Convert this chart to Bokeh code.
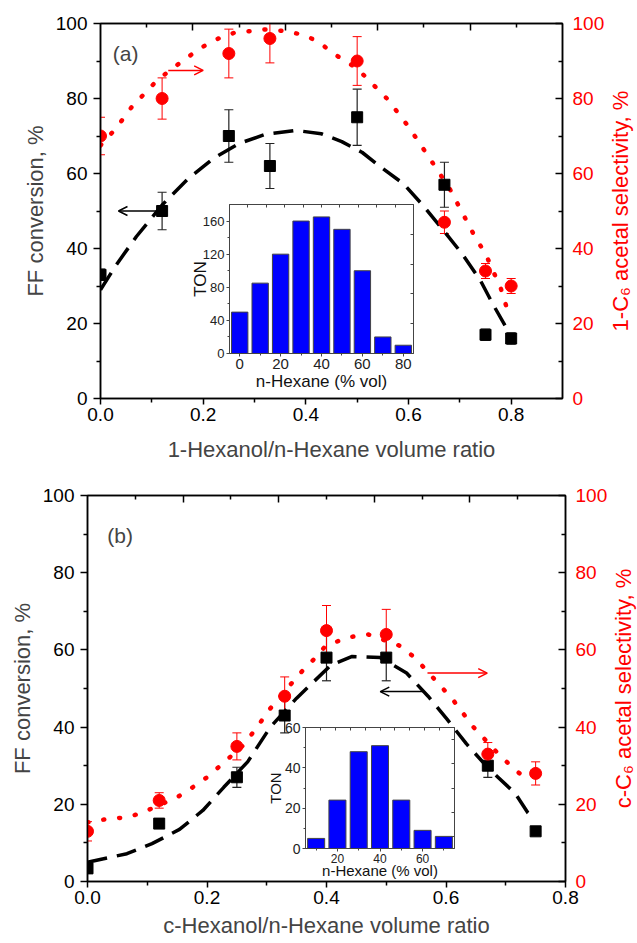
from bokeh.plotting import figure
from bokeh.models import (LinearAxis, Range1d, FixedTicker, Whisker, TeeHead,
                          ColumnDataSource, Arrow, OpenHead, Label,
                          PrintfTickFormatter, Spacer)
from bokeh.layouts import column, row
from bokeh.embed import file_html
from bokeh.resources import INLINE

FONT = "Liberation Sans"
RED = "#FF0000"
BLUE = "#0000FF"

# ---------------- panel (a): 1-hexanol / n-hexane ----------------
a_ratio = [0.0, 0.12, 0.25, 0.33, 0.50, 0.67, 0.75, 0.80]
a_conv = [33, 50, 70, 62, 75, 57, 17, 16]
a_conv_err = [1.5, 5, 7, 6, 7.5, 6, 1.5, 1.5]
a_sel = [70, 80, 92, 96, 90, 47, 34, 30]
a_sel_err = [5, 5.5, 6.5, 6.5, 6.5, 3, 2, 2]

a_conv_fit_x = [0.0, 0.03, 0.07, 0.12, 0.17, 0.22, 0.27, 0.32, 0.38, 0.43,
                0.47, 0.51, 0.55, 0.59, 0.63, 0.67, 0.705, 0.74, 0.765, 0.79]
a_conv_fit_y = [29, 35.5, 43.2, 51.6, 58.5, 64, 68, 70.4, 71.5, 70.6,
                68.5, 65.6, 61.3, 57.3, 51.2, 44.5, 38.5, 31.5, 25, 19]
a_sel_fit_x = [0.0, 0.03, 0.06, 0.11, 0.14, 0.19, 0.22, 0.26, 0.32, 0.36, 0.40,
               0.43, 0.45, 0.50, 0.56, 0.60, 0.64, 0.68, 0.73, 0.75, 0.78, 0.79]
a_sel_fit_y = [67.5, 72, 77.6, 84.8, 88, 93, 95.5, 97.5, 98.4, 98, 96.8,
               94.6, 92.3, 88, 79.7, 72.5, 64.3, 56, 43, 38.6, 29.3, 24.8]

a_hexane = [0, 10, 20, 30, 40, 50, 60, 70, 80]
a_ton = [50, 85, 120, 160, 165, 150, 100, 20, 10]

# ---------------- panel (b): c-hexanol / n-hexane ----------------
b_ratio = [0.0, 0.12, 0.25, 0.33, 0.40, 0.50, 0.67, 0.75]
b_conv = [3.4, 15, 27, 43, 58, 58, 30, 13]
b_conv_err = [1, 1, 2.6, 4.5, 6, 6, 3, 1]
b_sel = [13, 21, 35, 48, 65, 64, 33, 28]
b_sel_err = [2.5, 2, 3.5, 5, 6.5, 6.5, 3, 3]

b_conv_fit_x = [0.0, 0.066, 0.108, 0.154, 0.193, 0.228, 0.268, 0.306, 0.35,
                0.407, 0.443, 0.49, 0.534, 0.57, 0.602, 0.634, 0.67, 0.716,
                0.737, 0.747]
b_conv_fit_y = [5, 7.2, 9.8, 13.5, 18.4, 24.4, 31, 40, 47.5,
                56, 58.3, 58, 54, 48, 42, 35.7, 29.5, 22.8, 17.8, 16.3]
b_sel_fit_x = [0.0, 0.036, 0.067, 0.094, 0.15, 0.175, 0.2, 0.226, 0.26, 0.284,
               0.303, 0.343, 0.362, 0.385, 0.398, 0.437, 0.47, 0.524, 0.549,
               0.59, 0.61, 0.629, 0.646, 0.688, 0.711, 0.733]
b_sel_fit_y = [15.3, 16.3, 16.6, 18, 21.8, 24.3, 27, 30.5, 35.2, 40,
               44.3, 51.6, 55, 58.5, 61, 63.3, 64, 61, 57.8,
               50.8, 47.4, 43.5, 40, 33, 29.6, 26.7]

b_hexane = [10, 20, 30, 40, 50, 60, 70]
b_ton = [5, 24, 48, 51, 24, 9, 6]

# tick positions
main_y_ticks = [0, 20, 40, 60, 80, 100]
main_y_minor = [10, 30, 50, 70, 90]
a_x_ticks = [0.0, 0.2, 0.4, 0.6, 0.8]
a_x_minor = [0.1, 0.3, 0.5, 0.7]
a_top_ticks = [0.18, 0.36, 0.54, 0.72]
a_top_minor = [0.09, 0.27, 0.45, 0.63, 0.81]
b_x_ticks = [0.0, 0.2, 0.4, 0.6, 0.8]
b_x_minor = [0.1, 0.3, 0.5, 0.7]
b_top_ticks = [0.16, 0.32, 0.48, 0.64]
b_top_minor = [0.08, 0.24, 0.40, 0.56, 0.72]


def style_axis(ax, size, color="black", tin=0, tout=7, min_in=0, min_out=4):
    ax.axis_line_width = 1.5
    ax.axis_line_color = "black"
    ax.major_tick_line_width = 1.5
    ax.minor_tick_line_width = 1.5
    ax.major_tick_line_color = "black"
    ax.minor_tick_line_color = "black"
    ax.major_tick_in = tin
    ax.major_tick_out = tout
    ax.minor_tick_in = min_in
    ax.minor_tick_out = min_out
    ax.major_label_text_font = FONT
    ax.major_label_text_font_size = size
    ax.major_label_text_color = color
    ax.axis_label_text_font = FONT
    ax.axis_label_text_font_style = "normal"


def main_panel(width, height, borders, xmax, x_ticks, x_minor, top_ticks,
               top_minor, xlabel, xlabel_standoff, rlabel, frame_h):
    left, right, top, bottom = borders
    p = figure(width=width, height=height, x_range=Range1d(0, xmax),
               y_range=Range1d(0, 100), output_backend="svg",
               toolbar_location=None, min_border_left=left,
               min_border_right=right, min_border_top=top,
               min_border_bottom=bottom)
    p.extra_y_ranges = {"sel": Range1d(0, 100)}
    p.grid.visible = False
    p.outline_line_color = "black"
    p.outline_line_width = 1.5
    p.background_fill_color = "white"
    p.border_fill_color = "white"

    xa = p.xaxis[0]
    xa.ticker = FixedTicker(ticks=x_ticks, minor_ticks=x_minor)
    xa.formatter = PrintfTickFormatter(format="%.1f")
    style_axis(xa, "19px", tout=6, min_out=4)
    xa.major_label_standoff = 3
    xa.axis_label = xlabel
    xa.axis_label_text_font_size = "22px"
    xa.axis_label_standoff = xlabel_standoff

    ya = p.yaxis[0]
    ya.ticker = FixedTicker(ticks=main_y_ticks, minor_ticks=main_y_minor)
    style_axis(ya, "19px", tout=7, min_out=4)
    ya.major_label_standoff = 6
    ya.axis_label = "FF conversion, %"
    ya.axis_label_text_font_size = "22px"
    ya.axis_label_standoff = 5

    ra = LinearAxis(y_range_name="sel",
                    ticker=FixedTicker(ticks=main_y_ticks, minor_ticks=main_y_minor))
    style_axis(ra, "19px", color=RED, tin=7, tout=0, min_in=4, min_out=0)
    ra.major_label_standoff = 10
    p.add_layout(ra, "right")

    # right-hand title in its own side panel, reading from bottom to top
    p.add_layout(Label(x=13, y=frame_h / 2, x_units="screen", y_units="screen",
                       text=rlabel, angle=90, angle_units="deg",
                       text_align="center", text_baseline="middle",
                       text_font=FONT, text_font_size="22px",
                       text_color=RED), "right")

    ta = LinearAxis(ticker=FixedTicker(ticks=top_ticks, minor_ticks=top_minor))
    style_axis(ta, "1px", tin=7, tout=0, min_in=4, min_out=0)
    ta.major_label_text_color = None
    ta.major_label_standoff = 0
    p.add_layout(ta, "above")
    return p


def add_series(p, x, conv, conv_err, sel, sel_err, cfx, cfy, sfx, sfy):
    # fitted trends
    p.line(cfx, cfy, line_color="black", line_width=3.5, line_dash="20 10")
    p.line(sfx, sfy, line_color=RED, line_width=4.5, line_dash="1 15",
           line_cap="round", y_range_name="sel")

    conv_src = ColumnDataSource(dict(
        x=x, y=conv,
        lo=[v - e for v, e in zip(conv, conv_err)],
        hi=[v + e for v, e in zip(conv, conv_err)]))
    sel_src = ColumnDataSource(dict(
        x=x, y=sel,
        lo=[v - e for v, e in zip(sel, sel_err)],
        hi=[v + e for v, e in zip(sel, sel_err)]))

    p.add_layout(Whisker(source=conv_src, base="x", lower="lo", upper="hi",
                         line_color="#222222", line_width=1.2,
                         upper_head=TeeHead(size=9, line_color="#222222", line_width=1.2),
                         lower_head=TeeHead(size=9, line_color="#222222", line_width=1.2)))
    p.add_layout(Whisker(source=sel_src, base="x", lower="lo", upper="hi",
                         y_range_name="sel", line_color=RED, line_width=1,
                         upper_head=TeeHead(size=9, line_color=RED, line_width=1),
                         lower_head=TeeHead(size=9, line_color=RED, line_width=1)))

    p.scatter("x", "y", source=conv_src, marker="square", size=11,
              fill_color="black", line_color="black")
    p.scatter("x", "y", source=sel_src, marker="circle", size=12,
              fill_color=RED, line_color=RED, y_range_name="sel")


def inset(frame_w, frame_h, borders, xr, yr, x_ticks, x_minor, y_ticks, y_minor,
          top_ticks, right_ticks, xs, tons, tick_sizes, label_size,
          ton_standoff, x_standoff):
    left, right, top, bottom = borders
    q = figure(frame_width=frame_w, frame_height=frame_h, x_range=Range1d(*xr),
               y_range=Range1d(*yr), output_backend="svg",
               toolbar_location=None, min_border_left=left,
               min_border_right=right, min_border_top=top,
               min_border_bottom=bottom)
    q.grid.visible = False
    q.outline_line_color = "#444444"
    q.outline_line_width = 1
    q.background_fill_color = "white"
    q.border_fill_color = None

    q.vbar(x=xs, top=tons, width=8, bottom=0, fill_color=BLUE,
           line_color="#444444", line_width=1)

    for ax, size in ((q.xaxis[0], tick_sizes[0]), (q.yaxis[0], tick_sizes[1])):
        style_axis(ax, size, tout=3, min_out=2)
        ax.axis_line_width = 1
        ax.axis_line_color = "#444444"
        ax.major_tick_line_width = 1
        ax.minor_tick_line_width = 1
        ax.major_tick_line_color = "#444444"
        ax.minor_tick_line_color = "#444444"
        ax.major_label_standoff = 2
        ax.major_label_text_color = "#222222"
        ax.axis_label_text_font_size = label_size
        ax.axis_label_text_color = "#111111"
    xa = q.xaxis[0]
    xa.ticker = FixedTicker(ticks=x_ticks, minor_ticks=x_minor)
    xa.axis_label = "n-Hexane (% vol)"
    xa.axis_label_standoff = x_standoff
    ya = q.yaxis[0]
    ya.ticker = FixedTicker(ticks=y_ticks, minor_ticks=y_minor)
    ya.axis_label = "TON"
    ya.axis_label_standoff = ton_standoff

    for ticks, side in ((top_ticks, "above"), (right_ticks, "right")):
        ax = LinearAxis(ticker=FixedTicker(ticks=ticks, minor_ticks=[]))
        style_axis(ax, "1px", tin=3, tout=0, min_in=0, min_out=0)
        ax.axis_line_width = 1
        ax.axis_line_color = "#444444"
        ax.major_tick_line_width = 1
        ax.major_tick_line_color = "#444444"
        ax.major_label_text_color = None
        ax.major_label_standoff = 0
        q.add_layout(ax, side)
    return q


# ---------------- build panel (a) ----------------
pa = main_panel(637, 470, (100, 75, 23, 72), 0.9, a_x_ticks, a_x_minor,
                a_top_ticks, a_top_minor,
                "1-Hexanol/n-Hexane volume ratio", 13,
                "1-C\u2086 acetal selectivity, %", 375)
add_series(pa, a_ratio, a_conv, a_conv_err, a_sel, a_sel_err,
           a_conv_fit_x, a_conv_fit_y, a_sel_fit_x, a_sel_fit_y)
pa.add_layout(Arrow(end=OpenHead(size=9, line_color=RED, line_width=1.5),
                    x_start=0.132, y_start=87.5, x_end=0.2, y_end=87.5,
                    line_color=RED, line_width=1.5))
pa.add_layout(Arrow(end=OpenHead(size=9, line_color="black", line_width=1.5),
                    x_start=0.12, y_start=50, x_end=0.035, y_end=50,
                    line_color="black", line_width=1.5))
pa.add_layout(Label(x=0.024, y=92, text="(a)", text_font=FONT,
                    text_font_size="21px", text_baseline="middle"))

# inset (a): frame 184 x 149
ia = inset(184, 149, (60, 4, 4, 60), (-5, 85), (0, 180),
           [0, 20, 40, 60, 80], [10, 30, 50, 70],
           [0, 40, 80, 120, 160], [20, 60, 100, 140],
           [4, 13, 22, 31, 40, 49, 58, 67, 76], [36, 72, 108, 144],
           a_hexane, a_ton, ("15px", "13px"), "17px", -10, 0)
ia_row = row(Spacer(width=169, height=10), ia)
ia_row.margin = (-270, 0, 57, 0)

# ---------------- build panel (b) ----------------
pb = main_panel(637, 473, (87, 72, 25, 62), 0.8, b_x_ticks, b_x_minor,
                b_top_ticks, b_top_minor,
                "c-Hexanol/n-Hexane volume ratio", 6,
                "c-C\u2086 acetal selectivity, %", 386)
add_series(pb, b_ratio, b_conv, b_conv_err, b_sel, b_sel_err,
           b_conv_fit_x, b_conv_fit_y, b_sel_fit_x, b_sel_fit_y)
pb.add_layout(Arrow(end=OpenHead(size=9, line_color=RED, line_width=1.5),
                    x_start=0.569, y_start=54, x_end=0.669, y_end=54,
                    line_color=RED, line_width=1.5))
pb.add_layout(Arrow(end=OpenHead(size=9, line_color="black", line_width=1.5),
                    x_start=0.562, y_start=49.2, x_end=0.49, y_end=49.2,
                    line_color="black", line_width=1.5))
pb.add_layout(Label(x=0.033, y=89.6, text="(b)", text_font=FONT,
                    text_font_size="21px", text_baseline="middle"))

# inset (b): frame 149 x 121
ib = inset(149, 121, (60, 4, 10, 50), (5, 75), (0, 60),
           [20, 40, 60], [10, 30, 50, 70],
           [0, 20, 40, 60], [10, 30, 50],
           [12, 19, 26, 33, 40, 47, 54, 61, 68], [6, 18, 30, 42, 54],
           b_hexane, b_ton, ("12px", "14px"), "15px", -2, -4)
ib_row = row(Spacer(width=245, height=10), ib)
ib_row.margin = (-226, 0, 45, 0)

# each main panel sits in its own row so the two frames are laid out independently
layout = column(row(pa), ia_row, row(pb), ib_row)
open("out.html", "w").write(file_html(layout, INLINE))
